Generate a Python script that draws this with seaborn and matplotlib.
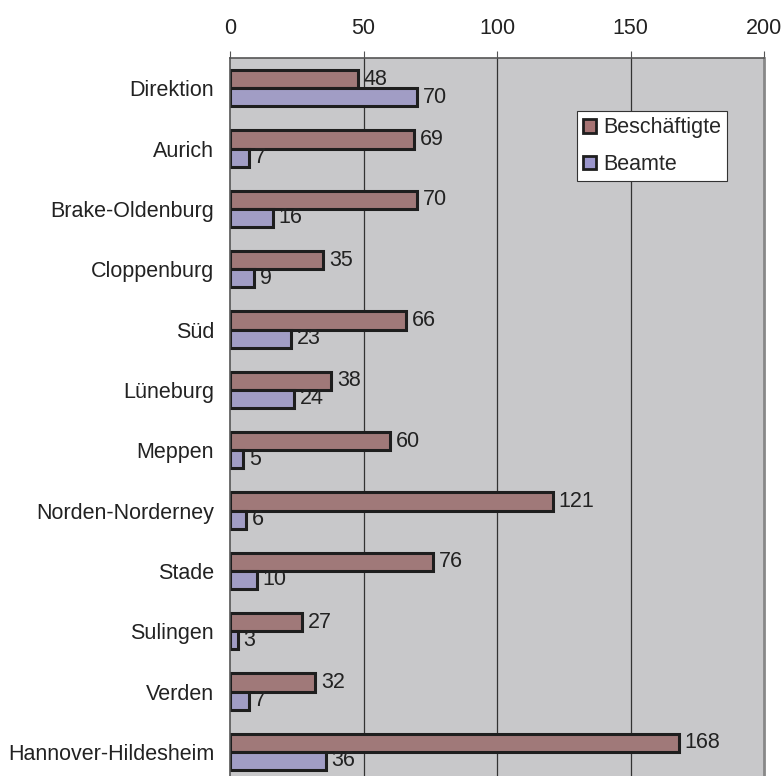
import matplotlib
matplotlib.use("Agg")
import matplotlib.pyplot as plt
import seaborn as sns
import pandas as pd
from matplotlib.patches import Patch
from matplotlib.ticker import FixedLocator

categories = ["Direktion", "Aurich", "Brake-Oldenburg", "Cloppenburg", "Süd", "Lüneburg",
              "Meppen", "Norden-Norderney", "Stade", "Sulingen", "Verden", "Hannover-Hildesheim"]
beschaeftigte = [48, 69, 70, 35, 66, 38, 60, 121, 76, 27, 32, 168]
beamte = [70, 7, 16, 9, 23, 24, 5, 6, 10, 3, 7, 36]
series = ["Beschäftigte", "Beamte"]
xticks = [0, 50, 100, 150, 200]

df = pd.DataFrame({
    "Kategorie": categories * 2,
    "Wert": beschaeftigte + beamte,
    "Serie": [series[0]] * len(categories) + [series[1]] * len(categories),
})

sns.set_style("white")
plt.rcParams["font.family"] = ["Liberation Sans", "DejaVu Sans"]

colors = {"Beschäftigte": "#A67373", "Beamte": "#9B96CC"}
fs = 15.5

fig = plt.figure(figsize=(7.83, 7.76), dpi=100)
ax = fig.add_axes([230 / 783, 0.0, (764 - 230) / 783, (776 - 58) / 776])
ax.set_facecolor("#C8C8CA")

sns.barplot(data=df, y="Kategorie", x="Wert", hue="Serie", orient="h", ax=ax,
            palette=colors, width=0.6, edgecolor="#1e1e1e", linewidth=2.2,
            legend=False, order=categories, hue_order=series)

for cont in ax.containers:
    ax.bar_label(cont, padding=4, fontsize=fs, color="#222222")

ax.set_xlim(0, 200)
ax.set_ylim(11.4, -0.5)
ax.xaxis.tick_top()
ax.set_xticks(xticks)
ax.set_xticklabels([str(t) for t in xticks], fontsize=fs, color="#222222")
ax.tick_params(axis="x", which="major", length=5, width=0.8, color="#555555", pad=9)
ax.set_yticks(range(len(categories)))
ax.set_yticklabels(categories, fontsize=fs, color="#222222")
ax.tick_params(axis="y", which="major", length=0, pad=11.5)
ax.yaxis.set_minor_locator(FixedLocator([i - 0.5 for i in range(len(categories) + 1)]))
ax.tick_params(axis="y", which="minor", length=5, width=0.8, color="#555555")
ax.set_xlabel("")
ax.set_ylabel("")

ax.grid(False)
for t in xticks[1:-1]:
    ax.axvline(t, color="#333333", linewidth=0.9, zorder=0)
ax.set_axisbelow(True)

for s in ["top", "left"]:
    ax.spines[s].set_color("#555555")
    ax.spines[s].set_linewidth(1.2)
ax.spines["right"].set_color("#888888")
ax.spines["right"].set_linewidth(2)
ax.spines["bottom"].set_visible(False)

handles = [Patch(facecolor=colors[s], edgecolor="#1e1e1e", linewidth=2.0, label=s) for s in series]
leg = ax.legend(handles=handles, loc="upper left", bbox_to_anchor=((577 - 230) / 534, 1 - (111 - 58) / 718),
                fontsize=fs, frameon=True, fancybox=False, handlelength=0.6, handleheight=0.6,
                handletextpad=0.3, borderpad=0.3, labelspacing=0.72, borderaxespad=0)
leg.get_frame().set_edgecolor("#333333")
leg.get_frame().set_linewidth(0.8)
leg.get_frame().set_facecolor("white")
leg.get_frame().set_alpha(1)

fig.savefig("out.png", dpi=100)
